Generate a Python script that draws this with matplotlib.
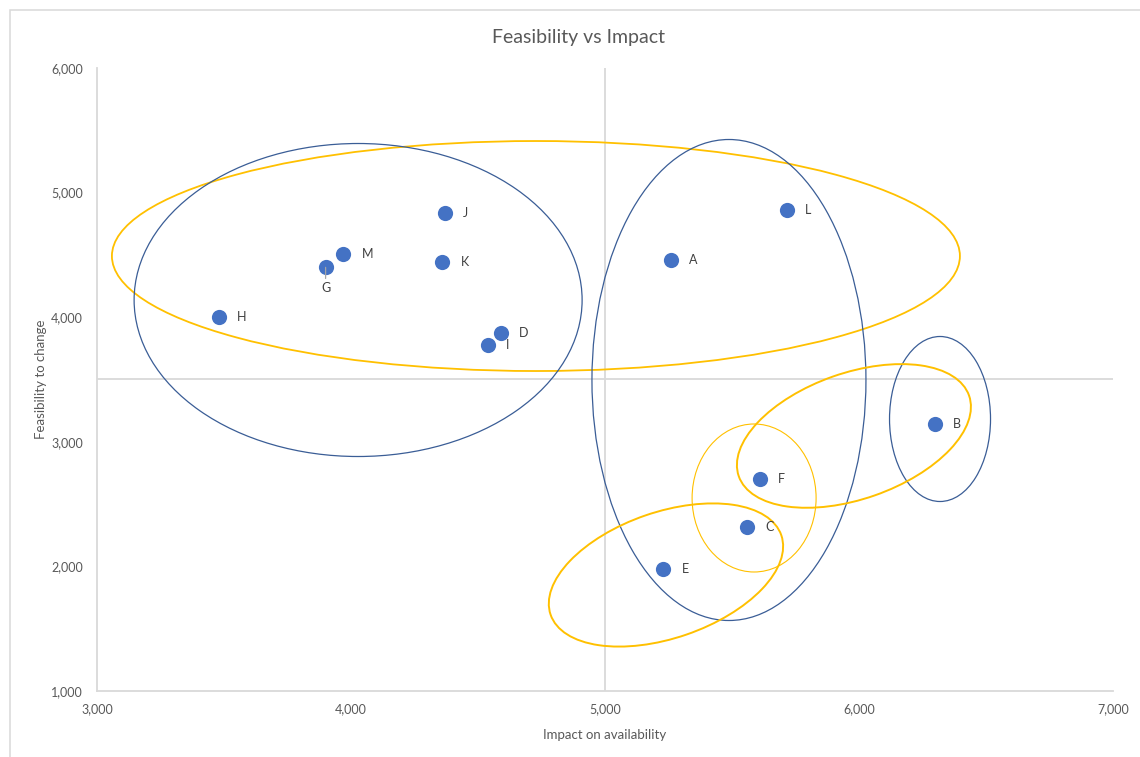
import matplotlib
matplotlib.use("Agg")
import matplotlib.pyplot as plt
from matplotlib.patches import Ellipse, Rectangle
from matplotlib.transforms import ScaledTranslation

# Data points
labels = ["A", "B", "C", "D", "E", "F", "G", "H", "I", "J", "K", "L", "M"]
impact = [5260, 6300, 5560, 4590, 5230, 5610, 3900, 3480, 4540, 4370, 4360, 5715, 3970]
feasibility = [4460, 3145, 2315, 3875, 1980, 2700, 4400, 4000, 3780, 4835, 4445, 4860, 4510]

# Quadrant split
x_mid = 5000
y_mid = 3500

plt.rcParams['font.family'] = ['Lato', 'DejaVu Sans']

fig = plt.figure(figsize=(11.4, 7.57), dpi=100)
fig.patch.set_facecolor('white')
ax = fig.add_axes([97 / 1140, 1 - 691 / 757, (1113 - 97) / 1140, (691 - 68) / 757])

# chart frame (only top and left edges fall inside the image)
fig.add_artist(Rectangle((10 / 1140, -0.1), 1.2, 1 - 10 / 757 + 0.1, transform=fig.transFigure,
                         fill=False, edgecolor='#D9D9D9', linewidth=1.1))

ax.set_xlim(3000, 7000)
ax.set_ylim(1000, 6000)
ax.set_xticks([3000, 4000, 5000, 6000, 7000])
ax.set_yticks([1000, 2000, 3000, 4000, 5000, 6000])
ax.xaxis.set_major_formatter(matplotlib.ticker.StrMethodFormatter('{x:,.0f}'))
ax.yaxis.set_major_formatter(matplotlib.ticker.StrMethodFormatter('{x:,.0f}'))
ax.tick_params(axis='both', length=0, labelsize=9, labelcolor='#595959')
ax.tick_params(axis='x', pad=9)
ax.tick_params(axis='y', pad=10)

for side in ['top', 'right']:
    ax.spines[side].set_visible(False)
for side in ['left', 'bottom']:
    ax.spines[side].set_color('#D9D9D9')
    ax.spines[side].set_linewidth(1.3)

ax.axvline(x_mid, color='#D9D9D9', linewidth=1.3, zorder=1)
ax.axhline(y_mid, color='#D9D9D9', linewidth=1.3, zorder=1)

# grouping shapes: centre (data), width/height (inches), angle, colour, line width
shapes = [
    ((4728, 4491), 8.48, 2.30, 0, '#FFC000', 1.3),
    ((4028, 4138), 4.48, 3.13, 0, '#3A5D96', 0.9),
    ((5488, 3496), 2.74, 4.81, 0, '#3A5D96', 0.9),
    ((6319, 3183), 1.01, 1.65, 0, '#3A5D96', 0.9),
    ((5587, 2549), 1.24, 1.48, 0, '#FFC000', 0.8),
    ((5980, 3047), 2.44, 1.26, 19.3, '#FFC000', 1.4),
    ((5240, 1931), 2.44, 1.26, 19.0, '#FFC000', 1.4),
]
for (cx, cy), w, h, ang, col, lw in shapes:
    tr = fig.dpi_scale_trans + ScaledTranslation(cx, cy, ax.transData)
    ax.add_patch(Ellipse((0, 0), w, h, angle=ang, transform=tr, fill=False,
                         edgecolor=col, linewidth=lw, zorder=2))

ax.scatter(impact, feasibility, s=120, color='#4472C4', zorder=3, linewidths=0)

for lab, x, y in zip(labels, impact, feasibility):
    if lab == 'G':
        # leader line from the point down to its label
        ax.annotate('', xy=(x, y), xytext=(0, -8), textcoords='offset points',
                    arrowprops=dict(arrowstyle='-', color='#A6A6A6', lw=0.9, shrinkA=0, shrinkB=0),
                    zorder=4)
        ax.annotate(lab, (x, y), xytext=(0, -15), textcoords='offset points',
                    ha='center', va='center', fontsize=9, color='#404040')
    else:
        ax.annotate(lab, (x, y), xytext=(13, 0), textcoords='offset points',
                    ha='left', va='center', fontsize=9, color='#404040')

fig.text(578 / 1140, 1 - 37 / 757, 'Feasibility vs Impact', ha='center', va='center',
         fontsize=14, color='#595959')
ax.set_xlabel('Impact on availability', fontsize=9.5, color='#595959', labelpad=10)
ax.set_ylabel('Feasibility to change', fontsize=9.5, color='#595959', labelpad=3)

fig.savefig('out.png', dpi=100, facecolor='white')
